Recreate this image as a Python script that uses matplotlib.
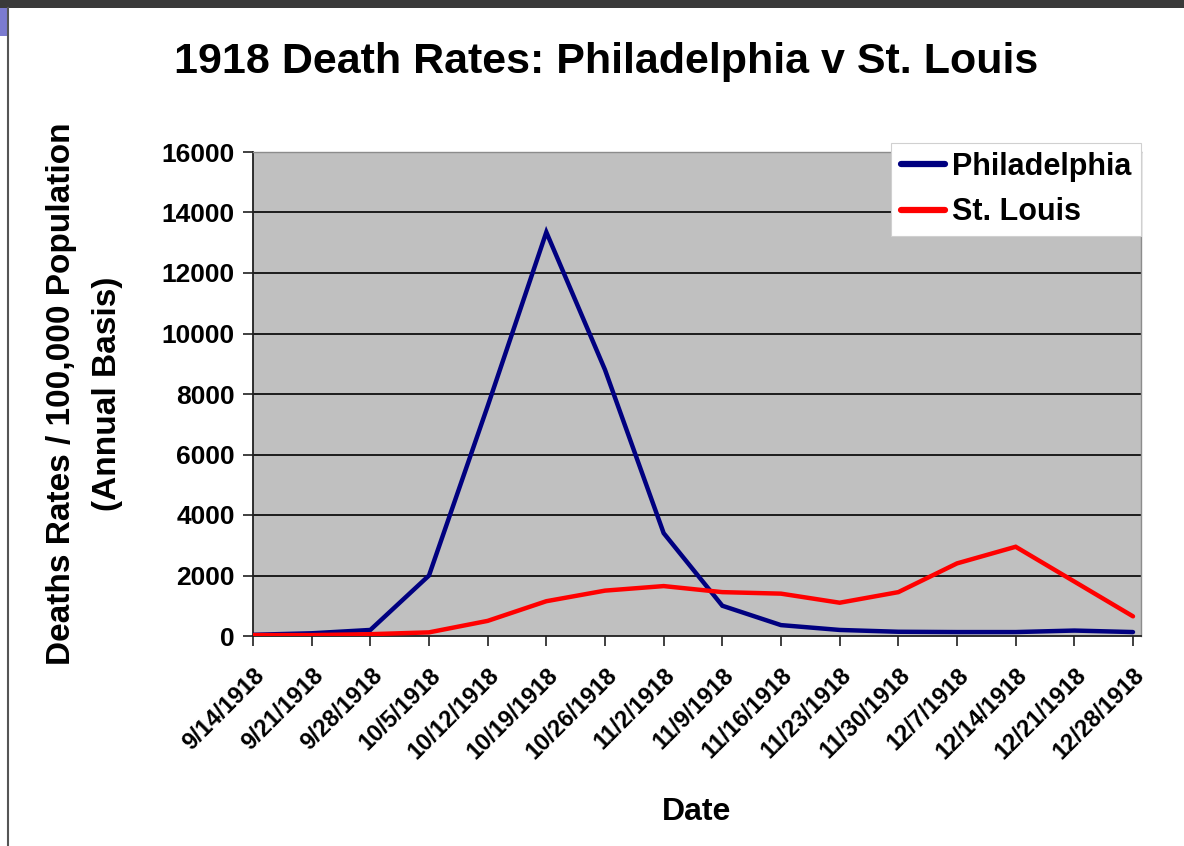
import matplotlib
matplotlib.use("Agg")
import matplotlib.pyplot as plt
from matplotlib.patches import Rectangle
from matplotlib.lines import Line2D

# dados
datas = ["9/14/1918", "9/21/1918", "9/28/1918", "10/5/1918", "10/12/1918",
         "10/19/1918", "10/26/1918", "11/2/1918", "11/9/1918", "11/16/1918",
         "11/23/1918", "11/30/1918", "12/7/1918", "12/14/1918", "12/21/1918",
         "12/28/1918"]
philadelphia = [40, 90, 200, 2000, 7600, 13350, 8800, 3400, 1000, 360,
                200, 140, 130, 130, 180, 130]
st_louis = [30, 30, 60, 120, 500, 1150, 1500, 1650, 1450, 1400,
            1100, 1450, 2400, 2950, 1800, 650]
y_ticks = [0, 2000, 4000, 6000, 8000, 10000, 12000, 14000, 16000]

plt.rcParams['font.family'] = ['Liberation Sans', 'DejaVu Sans']
plt.rcParams['font.weight'] = 'bold'

fig = plt.figure(figsize=(11.84, 8.46), dpi=100)
W, H = 1184, 846
ax = fig.add_axes([253 / W, 1 - 636 / H, (1141 - 253) / W, (636 - 152) / H])
ax.set_facecolor('#c0c0c0')

x = list(range(len(datas)))
ax.plot(x, philadelphia, color='#000080', lw=3.2, solid_capstyle='round',
        solid_joinstyle='miter', label='Philadelphia', zorder=3)
ax.plot(x, st_louis, color='#ff0000', lw=3.2, solid_capstyle='round',
        solid_joinstyle='miter', label='St. Louis', zorder=3)

ax.set_xlim(0, (1141 - 253) / ((1133 - 253) / 15))
ax.set_ylim(0, 16000)
ax.set_yticks(y_ticks)
ax.set_yticklabels([str(v) for v in y_ticks], fontsize=19, fontweight='bold')
ax.set_xticks(x)
ax.set_xticklabels(datas, rotation=45, ha='right', va='top',
                   rotation_mode='anchor', fontsize=17, fontweight='bold')
ax.tick_params(axis='both', direction='out', length=7, width=1.2, color='#202020')
ax.tick_params(axis='y', pad=6)
ax.tick_params(axis='x', pad=13)

# grades horizontais pretas
for v in y_ticks[1:-1]:
    ax.axhline(v, color='black', lw=1.2, zorder=1)

for lado in ['left', 'bottom']:
    ax.spines[lado].set_color('#202020')
    ax.spines[lado].set_linewidth(1.3)
for lado in ['top', 'right']:
    ax.spines[lado].set_color('#8c8c8c')
    ax.spines[lado].set_linewidth(1.0)

ax.set_ylabel("Deaths Rates / 100,000 Population\n(Annual Basis)",
              fontsize=24, fontweight='bold', linespacing=1.6, labelpad=28)
ax.set_xlabel("Date", fontsize=23, fontweight='bold', labelpad=24)

fig.text(606 / W, 1 - 62 / H, "1918 Death Rates: Philadelphia v St. Louis",
         ha='center', va='center', fontsize=31, fontweight='bold')

leg = ax.legend(loc='upper right', bbox_to_anchor=(1.0, 1.019), borderaxespad=0,
                prop={'weight': 'bold', 'size': 22},
                frameon=True, fancybox=False, framealpha=1, edgecolor='#d0d0d0',
                handlelength=1.45, handletextpad=0.25, borderpad=0.3,
                labelspacing=0.5)
leg.get_frame().set_linewidth(0.8)
for ln in leg.get_lines():
    ln.set_linewidth(4.5)

# moldura do slide
fig.patches.append(Rectangle((0, 1 - 8 / H), 1, 8 / H, transform=fig.transFigure,
                             facecolor='#3a3a3a', edgecolor='none'))
fig.patches.append(Rectangle((0, 1 - 36 / H), 7 / W, 28 / H, transform=fig.transFigure,
                             facecolor='#7b7bd0', edgecolor='none'))
fig.lines.append(Line2D([8 / W, 8 / W], [0, 1 - 8 / H], transform=fig.transFigure,
                        color='#555555', lw=1.5))

fig.savefig("out.png", dpi=100)
